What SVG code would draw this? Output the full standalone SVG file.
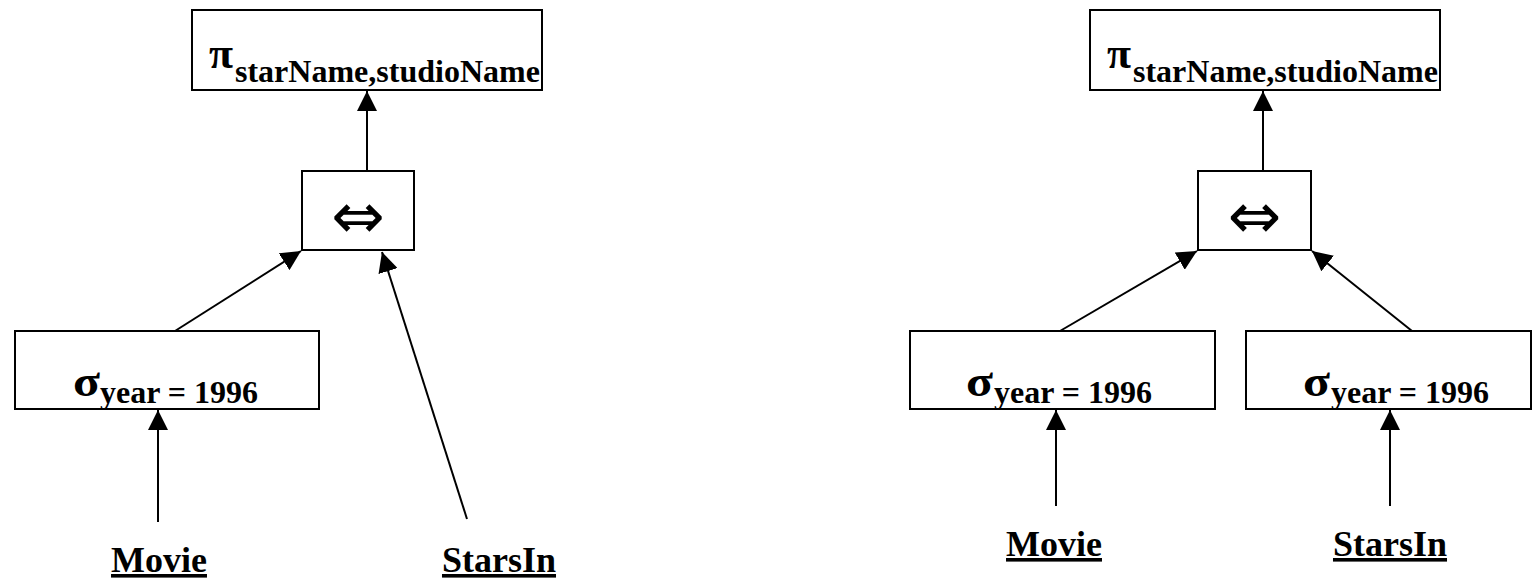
<svg xmlns="http://www.w3.org/2000/svg" width="1532" height="581" viewBox="0 0 1532 581">
  <defs>
    <marker id="arrow" viewBox="0 0 10 10" refX="10" refY="5" markerWidth="10" markerHeight="10" markerUnits="strokeWidth" orient="auto">
      <path d="M0,0 L10,5 L0,10 Z" fill="#000"/>
    </marker>
  </defs>
  <style>
    .box { fill: #fff; stroke: #000; stroke-width: 2; }
    .edge { stroke: #000; stroke-width: 2; fill: none; marker-end: url(#arrow); }
    .op { font-family: "Liberation Serif", "DejaVu Serif", serif; font-size: 44px; font-weight: bold; }
    .sub { font-family: "Liberation Serif", serif; font-size: 32px; font-weight: bold; }
    .join { font-family: "DejaVu Sans", sans-serif; font-size: 64px; }
    .rel { font-family: "Liberation Serif", serif; font-size: 36px; font-weight: bold; text-decoration: underline; text-anchor: middle; }
  </style>
  <rect width="1532" height="581" fill="#fff"/>

  <!-- left plan -->
  <g id="l-project">
    <rect class="box" x="192" y="10" width="350" height="80"/>
    <text class="op" x="209" y="68" textLength="24" lengthAdjust="spacingAndGlyphs">π</text>
    <text class="sub" x="235" y="82">starName,studioName</text>
  </g>
  <g id="l-join">
    <rect class="box" x="302" y="171" width="112" height="79"/>
    <text class="join" x="358" y="238" text-anchor="middle">⇔</text>
  </g>
  <g id="l-select">
    <rect class="box" x="15" y="331" width="304" height="78"/>
    <text class="op" x="73" y="396" textLength="27" lengthAdjust="spacingAndGlyphs">σ</text>
    <text class="sub" x="100" y="403">year = 1996</text>
  </g>
  <g id="l-movie">
    <text class="rel" x="159" y="572">Movie</text>
  </g>
  <g id="l-starsin">
    <text class="rel" x="499" y="572">StarsIn</text>
  </g>

  <!-- right plan -->
  <g id="r-project">
    <rect class="box" x="1090" y="10" width="350" height="80"/>
    <text class="op" x="1107" y="68" textLength="24" lengthAdjust="spacingAndGlyphs">π</text>
    <text class="sub" x="1133" y="82">starName,studioName</text>
  </g>
  <g id="r-join">
    <rect class="box" x="1198" y="171" width="113" height="79"/>
    <text class="join" x="1254.5" y="238" text-anchor="middle">⇔</text>
  </g>
  <g id="r-select-movie">
    <rect class="box" x="910" y="331" width="305" height="78"/>
    <text class="op" x="966" y="396" textLength="27" lengthAdjust="spacingAndGlyphs">σ</text>
    <text class="sub" x="994" y="403">year = 1996</text>
  </g>
  <g id="r-select-starsin">
    <rect class="box" x="1246" y="331" width="285" height="78"/>
    <text class="op" x="1303" y="396" textLength="27" lengthAdjust="spacingAndGlyphs">σ</text>
    <text class="sub" x="1331" y="403">year = 1996</text>
  </g>
  <g id="r-movie">
    <text class="rel" x="1054" y="556">Movie</text>
  </g>
  <g id="r-starsin">
    <text class="rel" x="1390" y="556">StarsIn</text>
  </g>

  <g id="connectors">
    <!-- left plan -->
    <line class="edge" x1="367" y1="171" x2="367" y2="91"/>
    <line class="edge" x1="175" y1="331" x2="301" y2="251"/>
    <line class="edge" x1="467" y1="519" x2="382" y2="252"/>
    <line class="edge" x1="158" y1="522" x2="158" y2="410"/>
    <!-- right plan -->
    <line class="edge" x1="1263" y1="171" x2="1263" y2="91"/>
    <line class="edge" x1="1060" y1="331" x2="1197" y2="251"/>
    <line class="edge" x1="1412" y1="331" x2="1312" y2="251"/>
    <line class="edge" x1="1056" y1="506" x2="1056" y2="410"/>
    <line class="edge" x1="1390" y1="506" x2="1390" y2="410"/>
  </g>
</svg>
